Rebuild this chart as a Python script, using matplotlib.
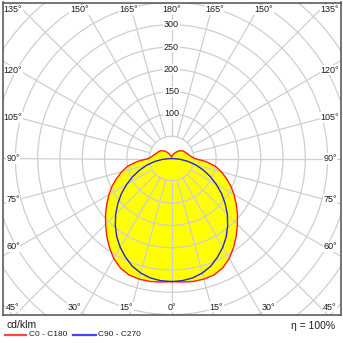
import numpy as np
import matplotlib
matplotlib.use('Agg')
import matplotlib.pyplot as plt
from matplotlib.lines import Line2D
from matplotlib.patches import Circle, Polygon

plt.rcParams['font.family'] = ['Liberation Sans', 'DejaVu Sans']

# luminous intensity in cd/klm, gamma angle 0 = down, 180 = up
gamma = np.arange(0, 181, 5)
c0_c180 = [276, 278, 280, 280, 278, 271, 259, 243, 226, 209, 193, 177, 162, 147, 131, 116, 100, 77, 52,
           45, 41, 38, 35.5, 33.5, 32, 30, 27, 24, 21, 17, 14, 11, 8.5, 6.5, 5, 4, 4]
gamma_c90 = np.arange(0, 91, 5)
c90_c270 = [276, 275, 272, 266, 257, 244, 230, 214, 196, 177, 157, 137, 116, 96, 76, 57, 38, 19, 0]

ring_values = [50, 100, 150, 200, 250, 300, 350, 400, 450, 500, 550]
ring_labels = [100, 150, 200, 250, 300]
angle_labels = [0, 15, 30, 45, 60, 75, 90, 105, 120, 135, 150, 165, 180]

PX = 1 / 0.446  # cd/klm per pixel
W = 343

fig = plt.figure(figsize=(3.43, 3.43), dpi=100)
ax = fig.add_axes([2.5 / W, 28 / W, 338 / W, 312.5 / W])
ax.set_xlim(-169 * PX, 169 * PX)
ax.set_ylim(-156.5 * PX, 156 * PX)
ax.set_xticks([])
ax.set_yticks([])
for s in ax.spines.values():
    s.set_color('#505050')
    s.set_linewidth(1.1)
    s.set_zorder(6)


def to_xy(angles, values, side):
    g = np.radians(angles)
    v = np.asarray(values, dtype=float)
    return side * v * np.sin(g), -v * np.cos(g)


# red curve: C0 on the right, C180 mirrored on the left
xr, yr = to_xy(gamma, c0_c180, 1)
xl, yl = to_xy(gamma[::-1], c0_c180[::-1], -1)
red_x = np.concatenate([xr, xl])
red_y = np.concatenate([yr, yl])

xb_r, yb_r = to_xy(gamma_c90, c90_c270, 1)
xb_l, yb_l = to_xy(gamma_c90[::-1], c90_c270[::-1], -1)
blue_x = np.concatenate([xb_l, xb_r])
blue_y = np.concatenate([yb_l, yb_r])

ax.add_patch(Polygon(np.column_stack([red_x, red_y]), closed=True, fc='#ffff00', ec='none', zorder=1))

# grid
grid_c = '#cfcfcf'
for r in ring_values:
    ax.add_patch(Circle((0, 0), r, fill=False, ec=grid_c, lw=0.9, zorder=2))
for a in range(0, 360, 15):
    t = np.radians(a)
    ax.plot([50 * np.sin(t), 700 * np.sin(t)], [-50 * np.cos(t), -700 * np.cos(t)],
            color=grid_c, lw=0.9, zorder=2)

ax.plot(red_x, red_y, color='#ff1a1a', lw=1.0, zorder=3)
ax.plot(blue_x, blue_y, color='#2626c8', lw=1.0, zorder=3)

box = dict(fc='white', ec='none', pad=0.4)
txt_c = '#1e1e1e'
for r in ring_labels:
    ax.text(0, r, str(r), ha='center', va='center', fontsize=6.5, color=txt_c, bbox=box, zorder=4)

side_x = 158.5 * PX
row_y = 148.5 * PX
for a in angle_labels:
    t = np.radians(a)
    if a in (45, 135):
        x, y = side_x, -row_y if a == 45 else row_y
    elif a < 45:
        x, y = np.tan(t) * 168 * PX, -row_y
    elif a > 135:
        x, y = np.tan(np.pi - t) * 160 * PX, row_y
    else:
        x, y = side_x, -153 * PX / np.tan(t) if a != 90 else 0.0
    for sx in ([1] if a in (0, 180) else [-1, 1]):
        ax.text(sx * x, y, f'{a}°', ha='center', va='center', fontsize=6.5, color=txt_c,
                bbox=box, zorder=4)

# legend below the frame
fig.text(7 / W, 1 - 325.5 / W, 'cd/klm', ha='left', va='center', fontsize=7.5, color=txt_c)
fig.text(335 / W, 1 - 326 / W, 'η = 100%', ha='right', va='center', fontsize=7.5, color=txt_c)
fig.add_artist(Line2D([5 / W, 26 / W], [1 - 335 / W] * 2, color='#ff4545', lw=1.6))
fig.text(29 / W, 1 - 335 / W, 'C0 - C180', ha='left', va='center', fontsize=6, color=txt_c)
fig.add_artist(Line2D([73 / W, 96 / W], [1 - 335 / W] * 2, color='#4545ff', lw=1.6))
fig.text(97.5 / W, 1 - 335 / W, 'C90 - C270', ha='left', va='center', fontsize=6, color=txt_c)

fig.savefig('out.png', dpi=100)
